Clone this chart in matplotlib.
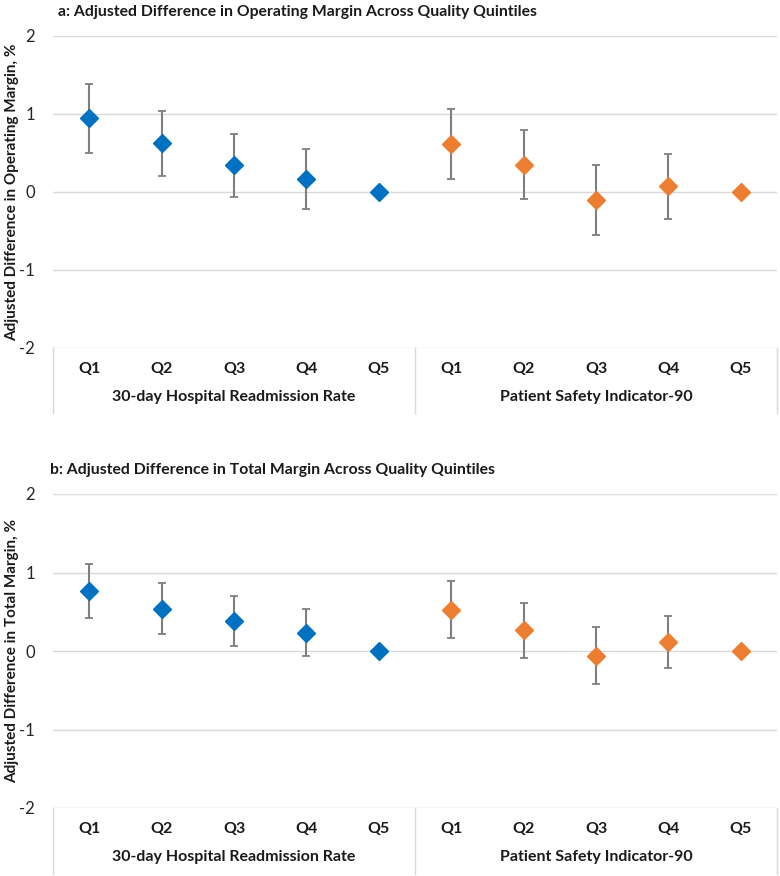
import matplotlib
matplotlib.use('Agg')
import matplotlib.pyplot as plt

plt.rcParams['font.family'] = ['Lato', 'DejaVu Sans']

quintiles = ['Q1', 'Q2', 'Q3', 'Q4', 'Q5']
groups = ['30-day Hospital Readmission Rate', 'Patient Safety Indicator-90']

# panel a: operating margin
op_read = [0.95, 0.63, 0.34, 0.17, 0.0]
op_read_lo = [0.50, 0.21, -0.06, -0.22, 0.0]
op_read_hi = [1.39, 1.04, 0.74, 0.55, 0.0]
op_psi = [0.62, 0.35, -0.10, 0.08, 0.0]
op_psi_lo = [0.17, -0.09, -0.55, -0.35, 0.0]
op_psi_hi = [1.07, 0.79, 0.35, 0.49, 0.0]

# panel b: total margin
tot_read = [0.77, 0.54, 0.38, 0.23, 0.0]
tot_read_lo = [0.42, 0.22, 0.07, -0.07, 0.0]
tot_read_hi = [1.11, 0.87, 0.70, 0.54, 0.0]
tot_psi = [0.52, 0.27, -0.06, 0.11, 0.0]
tot_psi_lo = [0.17, -0.09, -0.42, -0.22, 0.0]
tot_psi_hi = [0.89, 0.61, 0.30, 0.45, 0.0]

BLUE = '#0070C0'
ORANGE = '#ED7D31'
TXT = '#1a1a1a'
W, H = 780, 876

fig = plt.figure(figsize=(7.8, 8.76), dpi=100)


def px_axes(left, top, right, bottom):
    return fig.add_axes([left / W, 1 - bottom / H, (right - left) / W, (bottom - top) / H])


def draw_panel(top, bottom, box_bottom, title, title_x, ylabel, series):
    ax = px_axes(53, top, 777, bottom)
    for s in ax.spines.values():
        s.set_visible(False)
    ax.set_ylim(-2, 2)
    ax.set_xlim(-0.5, 9.5)
    ax.set_yticks([-2, -1, 0, 1, 2])
    ax.set_yticklabels(['-2', '-1', '0', '1', '2'], fontsize=12, color='#262626')
    ax.tick_params(axis='y', length=0, pad=13)
    ax.grid(axis='y', color='#d9d9d9', lw=1)
    ax.set_axisbelow(True)

    for k, (vals, lo, hi, col) in enumerate(series):
        xs = [k * 5 + i for i in range(5)]
        yerr = [[v - l for v, l in zip(vals, lo)], [h - v for v, h in zip(vals, hi)]]
        ax.errorbar(xs, vals, yerr=yerr, fmt='none', ecolor='#7f7f7f',
                    elinewidth=1.5, capsize=3, capthick=1.3, zorder=2)
        ax.plot(xs, vals, 'D', color=col, ms=9, mec=col, zorder=3)

    # category axis box
    frac = (box_bottom - bottom) / (bottom - top)
    tr = ax.get_xaxis_transform()
    for xv in (-0.5, 4.5, 9.5):
        ax.plot([xv, xv], [0, -frac], color='#d9d9d9', lw=1, transform=tr, clip_on=False)
    ax.set_xticks(range(10))
    ax.set_xticklabels(quintiles * 2, fontsize=11.5, fontweight='bold', color=TXT)
    ax.tick_params(axis='x', length=0, pad=10)
    for k, g in enumerate(groups):
        ax.text(k * 5 + 2, -frac * 0.75, g, transform=tr, ha='center', va='center',
                fontsize=11.5, fontweight='bold', color=TXT)

    fig.text(title_x / W, 1 - (top - 24) / H, title, fontsize=11.3, fontweight='bold',
             color=TXT, ha='left', va='center')
    fig.text(12 / W, 1 - ((top + bottom) / 2) / H, ylabel, rotation=90, fontsize=11,
             fontweight='bold', color=TXT, ha='center', va='center')
    return ax


draw_panel(36, 348, 413,
           'a: Adjusted Difference in Operating Margin Across Quality Quintiles', 58,
           'Adjusted Difference in Operating Margin, %',
           [(op_read, op_read_lo, op_read_hi, BLUE), (op_psi, op_psi_lo, op_psi_hi, ORANGE)])
draw_panel(494, 808, 874,
           'b: Adjusted Difference in Total Margin Across Quality Quintiles', 50,
           'Adjusted Difference in Total Margin, %',
           [(tot_read, tot_read_lo, tot_read_hi, BLUE), (tot_psi, tot_psi_lo, tot_psi_hi, ORANGE)])

fig.savefig('out.png', dpi=100, facecolor='white')
